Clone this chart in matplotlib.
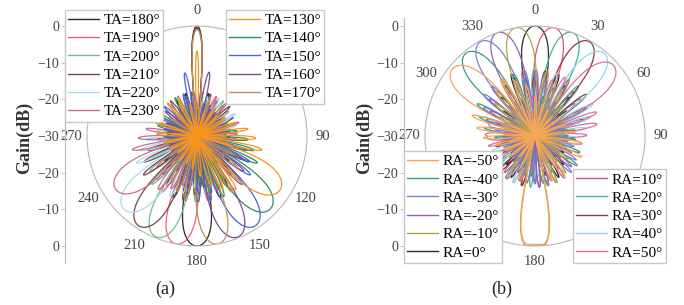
import numpy as np
import matplotlib
matplotlib.use("Agg")
import matplotlib.pyplot as plt
from matplotlib.lines import Line2D

plt.rcParams['font.family'] = ['Liberation Serif', 'DejaVu Serif']
plt.rcParams['axes.unicode_minus'] = True

# ---------------- Panel (a): transmit angle sweep ----------------
ta_values = [180, 190, 200, 210, 220, 230, 130, 140, 150, 160, 170]
ta_colors = ['#262626', '#f0607e', '#6cc28e', '#74464a', '#a6dcee', '#c8708e',
             '#f7941d', '#2f8f5a', '#4a64dc', '#7c4c94', '#b8935a']
ta_beam_dir = [180, 191, 202, 213, 225, 237, 123, 135, 147, 158, 169]
ta_beam_peak = [0.0, 0.0, -0.3, -0.8, -1.8, -3.5, -3.0, -1.8, -0.8, -0.3, 0.0]
ta_beam_hw = [14, 14, 14.5, 15, 16, 17, 17, 16, 15, 14.5, 14]
# additional individual lobes
ta_extra_series = [180, 210, 170, 130, 150, 160]
ta_extra_dir = [0, 0, 0, 0, 349, 11]
ta_extra_peak = [0.0, -0.5, -1.0, -7.0, -12.5, -12.5]
ta_extra_hw = [5, 5, 5, 2, 3.5, 3.5]
# side-lobe fan (offset from the beam direction, level in dB)
ta_side_offset = [21, 31, 41, 52, 65, 78, 92, 106, 120, 135, 150, 165]
ta_side_level = [-12, -14, -16, -19, -21, -22, -22, -23, -22, -21, -19, -18]

# ---------------- Panel (b): receive angle sweep ----------------
ra_values = [-50, -40, -30, -20, -10, 0, 10, 20, 30, 40, 50]
ra_colors = ['#f5a55a', '#3a9a74', '#7384d6', '#9462b4', '#b4a444', '#2a2a2a',
             '#e25474', '#44b2a2', '#8a3a4c', '#96d8ea', '#d672a4']
ra_beam_dir = [-51, -40, -30, -20, -10, 0, 10, 20, 30, 40, 48]
ra_beam_peak = [-1.0, -0.6, -0.3, 0.0, 0.0, 0.0, 0.0, 0.0, -0.3, -0.6, -1.2]
ra_beam_hw = [15, 14, 13.5, 13, 13, 13, 13, 13, 13.5, 14, 15]
ra_extra_series = [-10, -10, -10, -10, -50, -50, 50, 50, 50, 50]
ra_extra_dir = [176, 184, 170, 190, 176, 184, 268, 284, 80, 96]
ra_extra_peak = [0.0, 0.0, -16.0, -16.0, -0.4, -0.4, -17.0, -17.0, -19.0, -19.0]
ra_extra_hw = [8, 8, 5, 5, 8, 8, 9, 8, 9, 8]
ra_side_offset = [21, 31, 41, 52, 65, 78, 92, 106, 120, 135, 150, 165]
ra_side_level = [-12, -14, -16, -19, -21, -22, -23, -22, -21, -19, -17, -16]

SIDE_HW = 4.2
RMIN, RMAX = -30, 0
theta_deg = np.arange(0, 360.01, 0.2)


def pattern(lobes):
    p = np.full(theta_deg.shape, 1e-4)
    for d, g, w in lobes:
        delta = (theta_deg - d + 180) % 360 - 180
        m = np.abs(delta) < w
        p[m] += 10 ** (g / 10) * np.cos(np.pi / 2 * delta[m] / w) ** 2
    return np.clip(10 * np.log10(p), RMIN, RMAX)


def lobes_for(i, vals, bdir, bpk, bhw, ex_s, ex_d, ex_p, ex_w, so, sl):
    lobes = [(bdir[i], bpk[i], bhw[i])]
    for s, d, g, w in zip(ex_s, ex_d, ex_p, ex_w):
        if s == vals[i]:
            lobes.append((d, g, w))
    for o, l in zip(so, sl):
        lobes.append((bdir[i] + o, l, SIDE_HW))
        lobes.append((bdir[i] - o, l, SIDE_HW))
    return lobes


W, H = 684, 305
fig = plt.figure(figsize=(W / 100, H / 100), dpi=100)

GRAY = '#b8b8b8'
TXT = '#444444'


def make_panel(cx, cy, rad, spine_x, vals, colors, bdir, bpk, bhw,
               ex_s, ex_d, ex_p, ex_w, so, sl, order, hidden):
    ax = fig.add_axes([(cx - rad) / W, (H - cy - rad) / H, 2 * rad / W, 2 * rad / H],
                      projection='polar')
    ax.set_theta_zero_location('N')
    ax.set_theta_direction(-1)
    ax.set_ylim(RMIN, RMAX)
    ax.set_yticks([])
    ax.grid(False)
    ax.spines['polar'].set_color(GRAY)
    ax.spines['polar'].set_linewidth(0.8)
    angs = list(range(0, 360, 30))
    ax.set_xticks(np.deg2rad(angs))
    ax.set_xticklabels(['' if a in hidden else str(a) for a in angs], fontsize=10.5, color=TXT)
    ax.tick_params(axis='x', pad=1)
    handles = {}
    th = np.deg2rad(theta_deg)
    for i in order:
        r = pattern(lobes_for(i, vals, bdir, bpk, bhw, ex_s, ex_d, ex_p, ex_w, so, sl))
        ax.plot(th, r, color=colors[i], lw=0.9)
        handles[i] = Line2D([], [], color=colors[i], lw=1.0)
    # Gain axis on the left
    top, bot = 18, 263
    scale = rad / 30.0
    lax = fig.add_axes([spine_x / W, (H - bot) / H, 0.0001, (bot - top) / H])
    lax.set_ylim(-(bot - cy) / scale, (cy - top) / scale)
    lax.set_xticks([])
    lax.set_yticks([-30, -20, -10, 0, 10, 20, 30])
    lax.set_yticklabels(['0', '\u221210', '\u221220', '\u221230', '\u221220', '\u221210', '0'],
                        fontsize=10, color=TXT)
    lax.tick_params(axis='y', length=3, width=0.6, color=GRAY, pad=1)
    for s in ['top', 'right', 'bottom']:
        lax.spines[s].set_visible(False)
    lax.spines['left'].set_color(GRAY)
    lax.spines['left'].set_linewidth(0.8)
    lax.patch.set_alpha(0)
    return handles


leg_kw = dict(fontsize=11, frameon=True, fancybox=False, framealpha=1,
              edgecolor='#c8c8c8', handlelength=2.0, handletextpad=0.3,
              labelspacing=0.3, borderpad=0.22, borderaxespad=0)

# panel (a)
ha = make_panel(197, 136, 110, 65, ta_values, ta_colors, ta_beam_dir, ta_beam_peak,
                ta_beam_hw, ta_extra_series, ta_extra_dir, ta_extra_peak, ta_extra_hw,
                ta_side_offset, ta_side_level, order=[0, 1, 2, 3, 4, 5, 7, 8, 9, 10, 6],
                hidden=[30, 60, 300, 330])
l1 = fig.legend([ha[i] for i in range(6)], ['TA=%d\u00b0' % ta_values[i] for i in range(6)],
                loc='upper left', bbox_to_anchor=(65 / W, 1 - 10 / H), **leg_kw)
l2 = fig.legend([ha[i] for i in range(6, 11)], ['TA=%d\u00b0' % ta_values[i] for i in range(6, 11)],
                loc='upper left', bbox_to_anchor=(226 / W, 1 - 10 / H), **leg_kw)

# panel (b)
hb = make_panel(535, 136, 110, 404, ra_values, ra_colors, ra_beam_dir, ra_beam_peak,
                ra_beam_hw, ra_extra_series, ra_extra_dir, ra_extra_peak, ra_extra_hw,
                ra_side_offset, ra_side_level, order=[5, 6, 7, 8, 9, 10, 1, 2, 3, 4, 0],
                hidden=[120, 150, 210, 240])
l3 = fig.legend([hb[i] for i in range(6)], ['RA=%d\u00b0' % ra_values[i] for i in range(6)],
                loc='lower left', bbox_to_anchor=(404 / W, 1 - 263 / H), **leg_kw)
l4 = fig.legend([hb[i] for i in range(6, 11)], ['RA=%d\u00b0' % ra_values[i] for i in range(6, 11)],
                loc='lower right', bbox_to_anchor=(666 / W, 1 - 263 / H), **leg_kw)

fig.text(24 / W, 1 - 138 / H, 'Gain(dB)', rotation=90, ha='center', va='center',
         fontsize=13, fontweight='bold', color='#333333')
fig.text(364 / W, 1 - 138 / H, 'Gain(dB)', rotation=90, ha='center', va='center',
         fontsize=13, fontweight='bold', color='#333333')
fig.text(165 / W, 1 - 289 / H, '(a)', ha='center', va='center', fontsize=13, color='#222222')
fig.text(502 / W, 1 - 289 / H, '(b)', ha='center', va='center', fontsize=13, color='#222222')

fig.savefig('out.png', dpi=100)
